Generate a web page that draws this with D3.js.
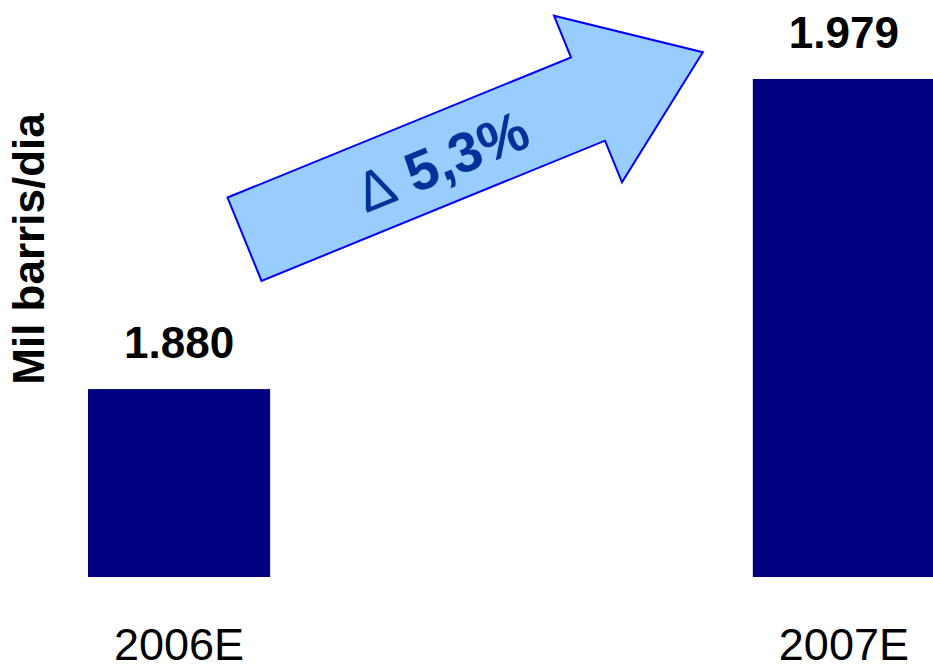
<!DOCTYPE html>
<html>
<head>
<meta charset="utf-8">
<script src="https://cdn.jsdelivr.net/npm/d3@7"></script>
<style>
  body { margin: 0; background: #fff; }
  svg { display: block; font-family: "Liberation Sans", Arial, sans-serif; }
</style>
</head>
<body>
<div id="chart"></div>
<script>
// Chart data
const categories = ["2006E", "2007E"];
const values = [1880, 1979];
const valueLabels = ["1.880", "1.979"];
const deltaLabel = "5,3%";
const yAxisTitle = "Mil barris/dia";
const yFloor = 1820; // axis does not start at zero

const width = 933;
const height = 670;
const baseY = 577;

const svg = d3.select("#chart")
    .append("svg")
    .attr("width", width)
    .attr("height", height);

const xScale = d3.scaleBand()
    .domain(categories)
    .range([88, 935])
    .paddingInner(0.726)
    .paddingOuter(0);

const yScale = d3.scaleLinear()
    .domain([yFloor, d3.max(values)])
    .range([baseY, 79]);

const data = categories.map((c, i) => ({ cat: c, value: values[i], label: valueLabels[i] }));

// Bars
svg.selectAll(".bar")
    .data(data)
    .enter()
    .append("rect")
    .attr("class", "bar")
    .attr("x", d => xScale(d.cat))
    .attr("y", d => yScale(d.value))
    .attr("width", xScale.bandwidth())
    .attr("height", d => baseY - yScale(d.value))
    .attr("fill", "#000080");

// Value labels above bars
svg.selectAll(".value")
    .data(data)
    .enter()
    .append("text")
    .attr("class", "value")
    .attr("x", d => xScale(d.cat) + xScale.bandwidth() / 2)
    .attr("y", d => yScale(d.value) - 31)
    .attr("text-anchor", "middle")
    .style("font-size", "44px")
    .style("font-weight", "bold")
    .text(d => d.label);

// Category labels
svg.selectAll(".cat")
    .data(data)
    .enter()
    .append("text")
    .attr("class", "cat")
    .attr("x", d => xScale(d.cat) + xScale.bandwidth() / 2)
    .attr("y", 660)
    .attr("text-anchor", "middle")
    .style("font-size", "45px")
    .text(d => d.cat);

// Y axis title
svg.append("text")
    .attr("transform", "translate(44, 249) rotate(-90)")
    .attr("text-anchor", "middle")
    .style("font-size", "44px")
    .style("font-weight", "bold")
    .text(yAxisTitle);

// Growth arrow, drawn in its own frame (x along the shaft)
const arrow = svg.append("g")
    .attr("transform", "translate(244.5, 239.2) rotate(-22.2)");

const shaftLen = 371, shaftHalf = 45, headHalf = 90, tipX = 495;
arrow.append("path")
    .attr("d", d3.line()([
        [0, -shaftHalf], [shaftLen, -shaftHalf], [shaftLen, -headHalf],
        [tipX, 0], [shaftLen, headHalf], [shaftLen, shaftHalf], [0, shaftHalf]
    ]) + "Z")
    .attr("fill", "#99CCFF")
    .attr("stroke", "#0000FF")
    .attr("stroke-width", 2)
    .attr("stroke-linejoin", "miter");

const deltaText = arrow.append("text")
    .attr("x", 122)
    .attr("y", 22)
    .attr("fill", "#003399");

deltaText.append("tspan")
    .style("font-size", "56px")
    .text("Δ");

deltaText.append("tspan")
    .style("font-size", "56px")
    .style("font-weight", "bold")
    .text(" " + deltaLabel);
</script>
</body>
</html>
